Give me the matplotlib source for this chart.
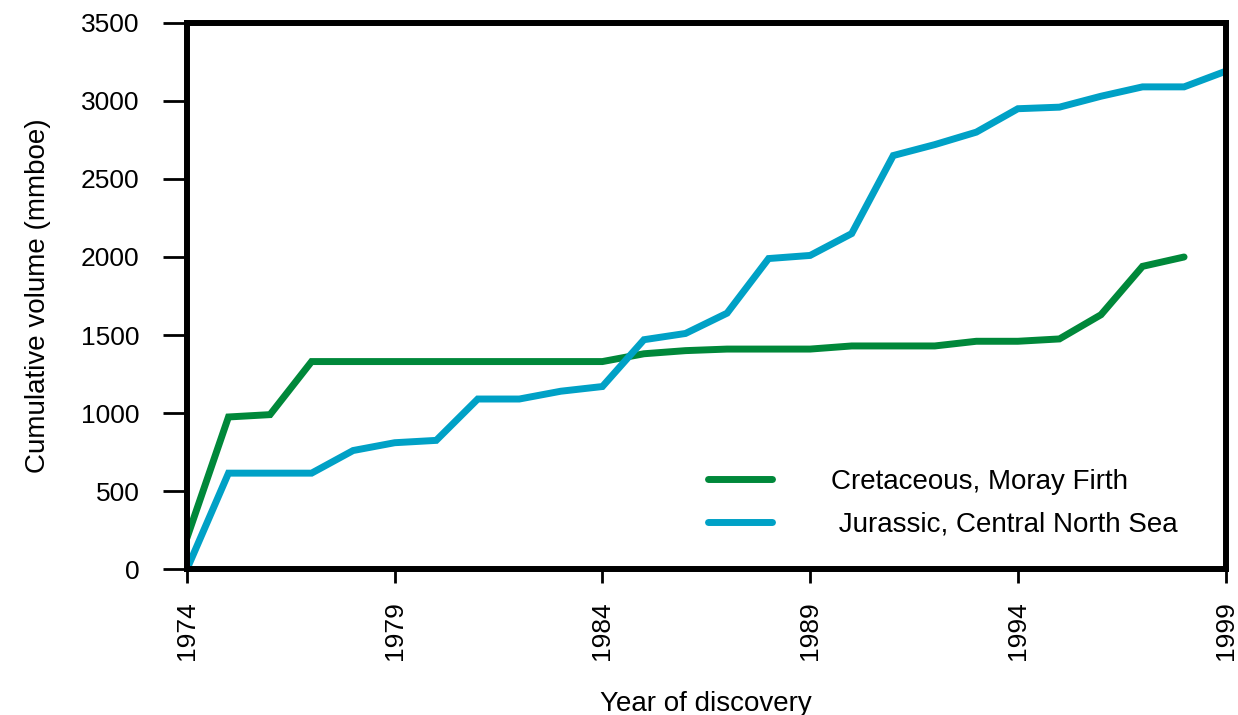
import numpy as np
import matplotlib
matplotlib.use("Agg")
import matplotlib.pyplot as plt

plt.rcParams['font.family'] = ['Liberation Sans', 'DejaVu Sans']

years = np.arange(1974, 2000)

# cumulative volume (mmboe)
cretaceous_years = np.arange(1974, 1999)
cretaceous = [200, 975, 990, 1330, 1330, 1330, 1330, 1330, 1330, 1330, 1330,
              1380, 1400, 1410, 1410, 1410, 1430, 1430, 1430, 1460, 1460,
              1475, 1630, 1940, 2000]
jurassic = [0, 615, 615, 615, 760, 810, 825, 1090, 1090, 1140, 1170,
            1470, 1510, 1640, 1990, 2010, 2150, 2650, 2720, 2800, 2950,
            2960, 3030, 3090, 3090, 3190]

green = '#00883a'
blue = '#00a1c6'

fig = plt.figure(figsize=(12.38, 7.15), dpi=100)
ax = fig.add_axes([0.151, 0.204, 0.839, 0.764])

ax.plot(cretaceous_years, cretaceous, color=green, lw=5,
        solid_capstyle='round', solid_joinstyle='miter',
        label='Cretaceous, Moray Firth')
ax.plot(years, jurassic, color=blue, lw=5,
        solid_capstyle='butt', solid_joinstyle='miter',
        label=' Jurassic, Central North Sea')

ax.set_xlim(1974, 1999)
ax.set_ylim(0, 3500)
ax.set_xticks(np.arange(1974, 2000, 5))
ax.set_yticks(np.arange(0, 3501, 500))
ax.tick_params(axis='x', labelrotation=90, length=10, width=2, direction='out',
               labelsize=19, pad=13)
ax.tick_params(axis='y', length=17, width=2, direction='out', labelsize=19, pad=17)
for s in ax.spines.values():
    s.set_linewidth(4.3)

ax.set_ylabel('Cumulative volume (mmboe)', fontsize=20, labelpad=22)
ax.set_xlabel('Year of discovery', fontsize=20, labelpad=22)

leg = ax.legend(loc='lower right', bbox_to_anchor=(0.9775, 0.012), frameon=False,
                fontsize=20, handlelength=2.3, handletextpad=2.1,
                labelspacing=0.6)
for h in leg.get_lines():
    h.set_solid_capstyle('round')

fig.savefig('out.png', dpi=100)
